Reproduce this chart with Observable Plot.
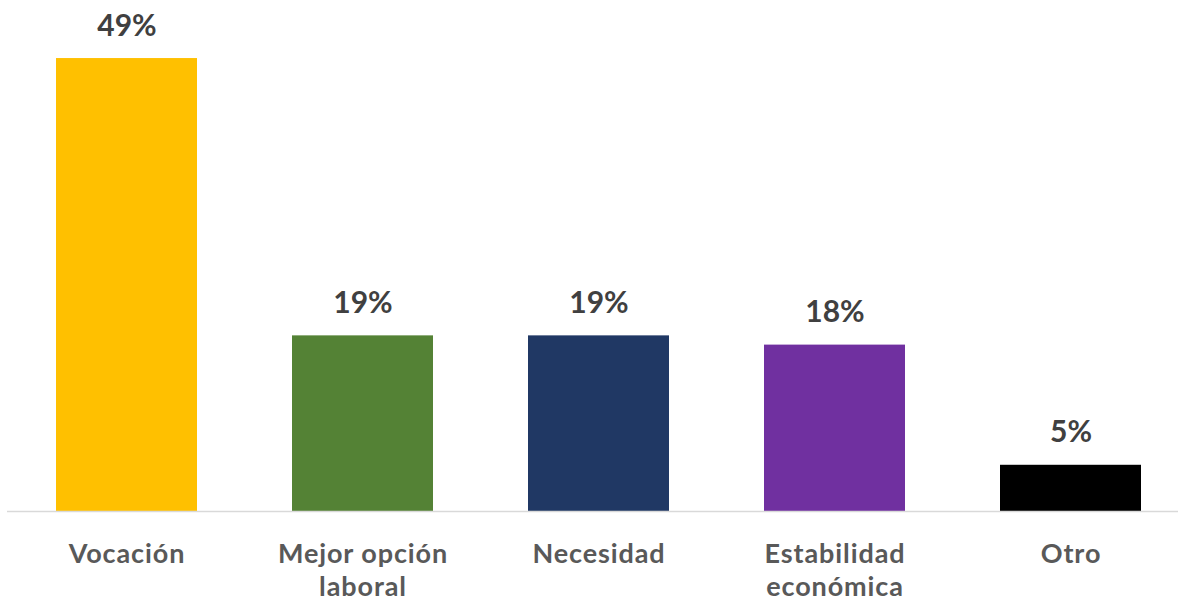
<!DOCTYPE html>
<html>
<head>
<meta charset="utf-8">
<script src="https://cdn.jsdelivr.net/npm/d3@7"></script>
<script src="https://cdn.jsdelivr.net/npm/@observablehq/plot@0.6"></script>
<style>
  html, body { margin: 0; padding: 0; background: #ffffff; }
  #chart svg { display: block; }
  #chart svg .cat text { letter-spacing: 0.9px; }
</style>
</head>
<body>
<div id="chart"></div>
<script>
const categories = ["Vocación", "Mejor opción\nlaboral", "Necesidad", "Estabilidad\neconómica", "Otro"];
const values = [0.49, 0.19, 0.19, 0.18, 0.05];
const valueLabels = ["49%", "19%", "19%", "18%", "5%"];
const colors = ["#FFC000", "#548235", "#203864", "#7030A0", "#000000"];

const data = categories.map((c, i) => ({category: c, value: values[i], label: valueLabels[i], color: colors[i]}));

const chart = Plot.plot({
  width: 1178,
  height: 604,
  marginLeft: 7,
  marginRight: 0,
  marginTop: 0,
  marginBottom: 93,
  style: {fontFamily: "Lato, 'Noto Sans', sans-serif", background: "#ffffff"},
  x: {domain: categories, padding: 0.4025, range: [-39, 1236], axis: null},
  y: {domain: [0, 0.5], range: [511, 48.8], axis: null},
  marks: [
    Plot.barY(data, {x: "category", y: "value", fill: "color"}),
    Plot.ruleY([0], {stroke: "#D9D9D9", strokeWidth: 1.5}),
    Plot.text(data, {
      x: "category", y: "value", text: "label",
      lineAnchor: "bottom", dy: -23,
      fontSize: 30, fontWeight: "bold", fill: "#404040"
    }),
    Plot.text(data, {
      x: "category", y: 0, text: "category",
      lineAnchor: "top", dy: 28.5, lineHeight: 1.22,
      fontSize: 27, fontWeight: "bold", fill: "#595959",
      className: "cat"
    })
  ]
});
document.getElementById("chart").appendChild(chart);
</script>
</body>
</html>
